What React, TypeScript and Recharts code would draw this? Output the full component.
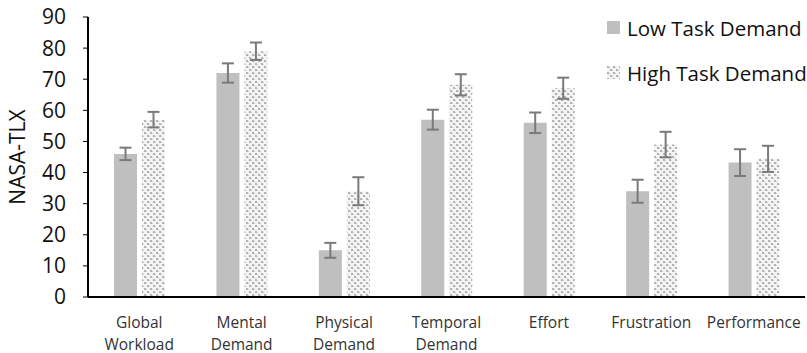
import { Bar, BarChart, ErrorBar, Legend, XAxis, YAxis } from 'recharts';

const categories = [
    'Global Workload',
    'Mental Demand',
    'Physical Demand',
    'Temporal Demand',
    'Effort',
    'Frustration',
    'Performance',
];
const seriesNames = ['Low Task Demand', 'High Task Demand'];
const lowDemand = [46, 72, 15, 57, 56, 34, 43.2];
const lowDemandErr = [2, 3.1, 2.4, 3.2, 3.3, 3.7, 4.3];
const highDemand = [57, 79, 34, 68.2, 67.1, 49, 44.4];
const highDemandErr = [2.5, 2.8, 4.5, 3.4, 3.4, 4.1, 4.2];
const yTicks = [0, 10, 20, 30, 40, 50, 60, 70, 80, 90];

const font = '"Open Sans", sans-serif';

const chartData = categories.map((name, i) => ({
    name,
    low: lowDemand[i],
    lowErr: lowDemandErr[i],
    high: highDemand[i],
    highErr: highDemandErr[i],
}));

// two-line category labels, split on the space
const CategoryTick = (props: any) => {
    const { x, y, payload } = props;
    const lines = String(payload.value).split(' ');
    return (
        <text x={x} y={y} textAnchor="middle" fill="#333" fontSize={15.5} fontFamily={font}>
            {lines.map((line, i) => (
                <tspan key={i} x={x} dy={i === 0 ? 29 : 21.5}>
                    {line}
                </tspan>
            ))}
        </text>
    );
};

const renderLegend = (props: any) => {
    // keep series order (legend sorts by name otherwise)
    const payload = [...props.payload].sort(
        (a: any, b: any) => seriesNames.indexOf(a.value) - seriesNames.indexOf(b.value),
    );
    return (
        <div style={{ fontFamily: font, fontSize: 20.5, color: '#111' }}>
            {payload.map((entry: any) => (
                <div key={entry.value} style={{ display: 'flex', alignItems: 'center', height: 45 }}>
                    <svg width={13} height={13} style={{ marginRight: 7 }}>
                        <rect width={13} height={13} fill={entry.color} />
                    </svg>
                    <span>{entry.value}</span>
                </div>
            ))}
        </div>
    );
};

const App = () => {
    return (
        <div style={{ position: 'absolute', left: 0, top: 0, background: '#fff' }}>
            <BarChart
                width={807}
                height={353}
                data={chartData}
                margin={{ top: 17, right: 2, bottom: 0, left: 0 }}
                barSize={23}
                barGap={5}
            >
                <defs>
                    <pattern id="hatch" width={6} height={6} patternUnits="userSpaceOnUse">
                        <rect width={6} height={6} fill="#f4f4f4" />
                        <rect x={0} y={0} width={2} height={2} fill="#b3b3b3" />
                        <rect x={3} y={3} width={2} height={2} fill="#b3b3b3" />
                        <rect x={2} y={1} width={1} height={1} fill="#cfcfcf" />
                        <rect x={5} y={4} width={1} height={1} fill="#cfcfcf" />
                    </pattern>
                </defs>
                <XAxis
                    dataKey="name"
                    tick={<CategoryTick />}
                    tickLine={false}
                    tickSize={0}
                    interval={0}
                    height={56}
                    axisLine={{ stroke: '#000', strokeWidth: 2 }}
                />
                <YAxis
                    domain={[0, 90]}
                    ticks={yTicks}
                    width={88}
                    tickSize={5}
                    tickMargin={17}
                    tick={{ fill: '#111', fontSize: 21, fontFamily: font }}
                    tickLine={{ stroke: '#000' }}
                    axisLine={{ stroke: '#000', strokeWidth: 2 }}
                    label={{
                        value: 'NASA-TLX',
                        angle: -90,
                        position: 'insideLeft',
                        offset: 18,
                        fill: '#111',
                        fontSize: 21,
                        fontFamily: font,
                        style: { textAnchor: 'middle' },
                    }}
                />
                <Legend
                    layout="vertical"
                    align="center"
                    verticalAlign="middle"
                    content={renderLegend}
                    wrapperStyle={{ left: 607, top: 5, width: 200 }}
                />
                <Bar dataKey="low" name={seriesNames[0]} fill="#bfbfbf" isAnimationActive={false}>
                    <ErrorBar dataKey="lowErr" width={6} stroke="#7a7a7a" strokeWidth={2} />
                </Bar>
                <Bar dataKey="high" name={seriesNames[1]} fill="url(#hatch)" isAnimationActive={false}>
                    <ErrorBar dataKey="highErr" width={6} stroke="#7a7a7a" strokeWidth={2} />
                </Bar>
            </BarChart>
        </div>
    );
};

export default App;
